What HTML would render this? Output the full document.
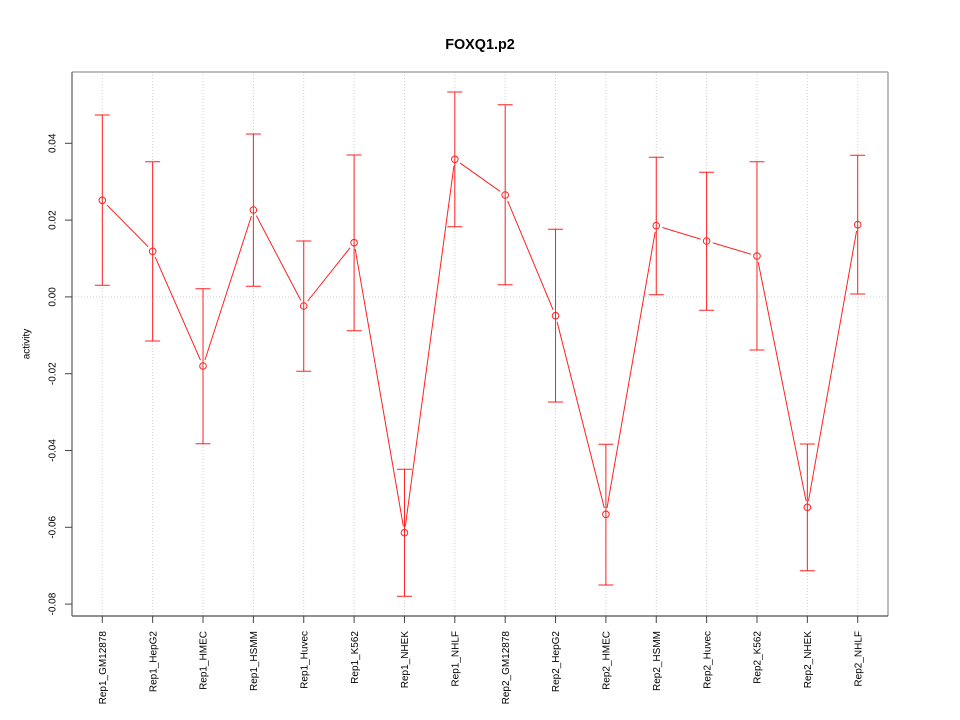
<!DOCTYPE html>
<html>
<head>
<meta charset="utf-8">
<style>
html,body{margin:0;padding:0;background:#fff;}
svg{display:block;}
text{font-family:"Liberation Sans",Arial,sans-serif;fill:#000;}
</style>
</head>
<body>
<svg width="960" height="720" viewBox="0 0 960 720" xmlns="http://www.w3.org/2000/svg">
<defs>
<mask id="gap">
<rect x="0" y="0" width="960" height="720" fill="#fff"/>
<g fill="#000">
<circle cx="102.3" cy="200.3" r="6.4"/>
<circle cx="152.66" cy="251.3" r="6.4"/>
<circle cx="203.02" cy="366" r="6.4"/>
<circle cx="253.38" cy="210" r="6.4"/>
<circle cx="303.74" cy="306" r="6.4"/>
<circle cx="354.1" cy="242.7" r="6.4"/>
<circle cx="404.46" cy="532.7" r="6.4"/>
<circle cx="454.82" cy="159.3" r="6.4"/>
<circle cx="505.18" cy="195" r="6.4"/>
<circle cx="555.54" cy="315.7" r="6.4"/>
<circle cx="605.9" cy="514.3" r="6.4"/>
<circle cx="656.26" cy="225.7" r="6.4"/>
<circle cx="706.62" cy="241" r="6.4"/>
<circle cx="756.98" cy="256" r="6.4"/>
<circle cx="807.34" cy="507.3" r="6.4"/>
<circle cx="857.7" cy="224.7" r="6.4"/>
</g>
</mask>
</defs>

<!-- title -->
<text x="480" y="49" font-size="14.4" font-weight="bold" text-anchor="middle">FOXQ1.p2</text>

<!-- grid -->
<g stroke="#cfcfcf" stroke-width="1" stroke-dasharray="1,2">
<line x1="102.3" y1="72" x2="102.3" y2="616"/>
<line x1="152.66" y1="72" x2="152.66" y2="616"/>
<line x1="203.02" y1="72" x2="203.02" y2="616"/>
<line x1="253.38" y1="72" x2="253.38" y2="616"/>
<line x1="303.74" y1="72" x2="303.74" y2="616"/>
<line x1="354.1" y1="72" x2="354.1" y2="616"/>
<line x1="404.46" y1="72" x2="404.46" y2="616"/>
<line x1="454.82" y1="72" x2="454.82" y2="616"/>
<line x1="505.18" y1="72" x2="505.18" y2="616"/>
<line x1="555.54" y1="72" x2="555.54" y2="616"/>
<line x1="605.9" y1="72" x2="605.9" y2="616"/>
<line x1="656.26" y1="72" x2="656.26" y2="616"/>
<line x1="706.62" y1="72" x2="706.62" y2="616"/>
<line x1="756.98" y1="72" x2="756.98" y2="616"/>
<line x1="807.34" y1="72" x2="807.34" y2="616"/>
<line x1="857.7" y1="72" x2="857.7" y2="616"/>
<line x1="72" y1="296.9" x2="888" y2="296.9"/>
</g>

<!-- error bars -->
<g stroke="#ff2020" stroke-width="1" fill="none">
<path d="M102.3 115V285.3M94.8 115H109.8M94.8 285.3H109.8"/>
<path d="M152.66 161.7V341M145.16 161.7H160.16M145.16 341H160.16"/>
<path d="M203.02 288.7V443.7M195.52 288.7H210.52M195.52 443.7H210.52"/>
<path d="M253.38 134V286.3M245.88 134H260.88M245.88 286.3H260.88"/>
<path d="M303.74 241V371.3M296.24 241H311.24M296.24 371.3H311.24"/>
<path d="M354.1 155V330.7M346.6 155H361.6M346.6 330.7H361.6"/>
<path d="M404.46 469.3V596.3M396.96 469.3H411.96M396.96 596.3H411.96"/>
<path d="M454.82 92V226.7M447.32 92H462.32M447.32 226.7H462.32"/>
<path d="M505.18 104.7V284.7M497.68 104.7H512.68M497.68 284.7H512.68"/>
<path d="M555.54 229.3V402M548.04 229.3H563.04M548.04 402H563.04"/>
<path d="M605.9 444.3V585M598.4 444.3H613.4M598.4 585H613.4"/>
<path d="M656.26 157.3V294.7M648.76 157.3H663.76M648.76 294.7H663.76"/>
<path d="M706.62 172.3V310.3M699.12 172.3H714.12M699.12 310.3H714.12"/>
<path d="M756.98 161.7V350M749.48 161.7H764.48M749.48 350H764.48"/>
<path d="M807.34 444V570.7M799.84 444H814.84M799.84 570.7H814.84"/>
<path d="M857.7 155.3V294M850.2 155.3H865.2M850.2 294H865.2"/>
</g>

<!-- connecting line -->
<polyline mask="url(#gap)" fill="none" stroke="#ff2020" stroke-width="1"
points="102.3,200.3 152.66,251.3 203.02,366 253.38,210 303.74,306 354.1,242.7 404.46,532.7 454.82,159.3 505.18,195 555.54,315.7 605.9,514.3 656.26,225.7 706.62,241 756.98,256 807.34,507.3 857.7,224.7"/>

<!-- points -->
<g fill="none" stroke="#ff2020" stroke-width="1">
<circle cx="102.3" cy="200.3" r="3.3"/>
<circle cx="152.66" cy="251.3" r="3.3"/>
<circle cx="203.02" cy="366" r="3.3"/>
<circle cx="253.38" cy="210" r="3.3"/>
<circle cx="303.74" cy="306" r="3.3"/>
<circle cx="354.1" cy="242.7" r="3.3"/>
<circle cx="404.46" cy="532.7" r="3.3"/>
<circle cx="454.82" cy="159.3" r="3.3"/>
<circle cx="505.18" cy="195" r="3.3"/>
<circle cx="555.54" cy="315.7" r="3.3"/>
<circle cx="605.9" cy="514.3" r="3.3"/>
<circle cx="656.26" cy="225.7" r="3.3"/>
<circle cx="706.62" cy="241" r="3.3"/>
<circle cx="756.98" cy="256" r="3.3"/>
<circle cx="807.34" cy="507.3" r="3.3"/>
<circle cx="857.7" cy="224.7" r="3.3"/>
</g>

<!-- box -->
<line x1="72" y1="72" x2="888" y2="72" stroke="#999" stroke-width="1.3"/>
<line x1="888" y1="72" x2="888" y2="616" stroke="#999" stroke-width="1.3"/>
<line x1="72" y1="616" x2="888" y2="616" stroke="#222" stroke-width="1"/>
<line x1="72" y1="72" x2="72" y2="616" stroke="#666" stroke-width="1.3"/>

<!-- y axis ticks -->
<g stroke="#444" stroke-width="1">
<line x1="65" y1="143.3" x2="72" y2="143.3"/>
<line x1="65" y1="220.1" x2="72" y2="220.1"/>
<line x1="65" y1="296.9" x2="72" y2="296.9"/>
<line x1="65" y1="373.7" x2="72" y2="373.7"/>
<line x1="65" y1="450.5" x2="72" y2="450.5"/>
<line x1="65" y1="527.3" x2="72" y2="527.3"/>
<line x1="65" y1="604.1" x2="72" y2="604.1"/>
</g>
<g font-size="10" text-anchor="middle">
<text transform="translate(55.5,143.3) rotate(-90)">0.04</text>
<text transform="translate(55.5,220.1) rotate(-90)">0.02</text>
<text transform="translate(55.5,296.9) rotate(-90)">0.00</text>
<text transform="translate(55.5,373.7) rotate(-90)">-0.02</text>
<text transform="translate(55.5,450.5) rotate(-90)">-0.04</text>
<text transform="translate(55.5,527.3) rotate(-90)">-0.06</text>
<text transform="translate(55.5,604.1) rotate(-90)">-0.08</text>
</g>
<text transform="translate(29.5,344) rotate(-90)" font-size="10" text-anchor="middle">activity</text>

<!-- x axis ticks -->
<g stroke="#444" stroke-width="1">
<line x1="102.3" y1="616" x2="102.3" y2="623"/>
<line x1="152.66" y1="616" x2="152.66" y2="623"/>
<line x1="203.02" y1="616" x2="203.02" y2="623"/>
<line x1="253.38" y1="616" x2="253.38" y2="623"/>
<line x1="303.74" y1="616" x2="303.74" y2="623"/>
<line x1="354.1" y1="616" x2="354.1" y2="623"/>
<line x1="404.46" y1="616" x2="404.46" y2="623"/>
<line x1="454.82" y1="616" x2="454.82" y2="623"/>
<line x1="505.18" y1="616" x2="505.18" y2="623"/>
<line x1="555.54" y1="616" x2="555.54" y2="623"/>
<line x1="605.9" y1="616" x2="605.9" y2="623"/>
<line x1="656.26" y1="616" x2="656.26" y2="623"/>
<line x1="706.62" y1="616" x2="706.62" y2="623"/>
<line x1="756.98" y1="616" x2="756.98" y2="623"/>
<line x1="807.34" y1="616" x2="807.34" y2="623"/>
<line x1="857.7" y1="616" x2="857.7" y2="623"/>
</g>
<g font-size="10" text-anchor="end">
<text transform="translate(106,631) rotate(-90)">Rep1_GM12878</text>
<text transform="translate(156.36,631) rotate(-90)">Rep1_HepG2</text>
<text transform="translate(206.72,631) rotate(-90)">Rep1_HMEC</text>
<text transform="translate(257.08,631) rotate(-90)">Rep1_HSMM</text>
<text transform="translate(307.44,631) rotate(-90)">Rep1_Huvec</text>
<text transform="translate(357.8,631) rotate(-90)">Rep1_K562</text>
<text transform="translate(408.16,631) rotate(-90)">Rep1_NHEK</text>
<text transform="translate(458.52,631) rotate(-90)">Rep1_NHLF</text>
<text transform="translate(508.88,631) rotate(-90)">Rep2_GM12878</text>
<text transform="translate(559.24,631) rotate(-90)">Rep2_HepG2</text>
<text transform="translate(609.6,631) rotate(-90)">Rep2_HMEC</text>
<text transform="translate(659.96,631) rotate(-90)">Rep2_HSMM</text>
<text transform="translate(710.32,631) rotate(-90)">Rep2_Huvec</text>
<text transform="translate(760.68,631) rotate(-90)">Rep2_K562</text>
<text transform="translate(811.04,631) rotate(-90)">Rep2_NHEK</text>
<text transform="translate(861.4,631) rotate(-90)">Rep2_NHLF</text>
</g>
</svg>
</body>
</html>
